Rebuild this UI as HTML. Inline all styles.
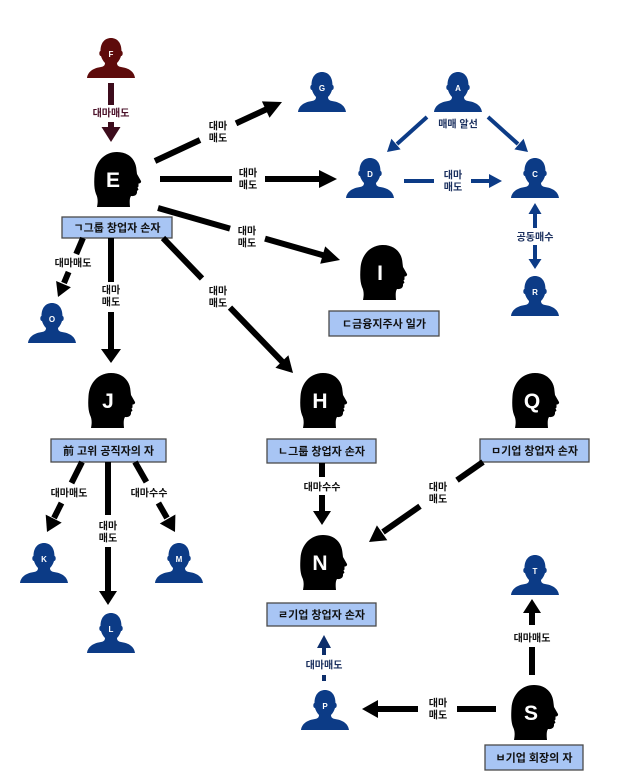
<!DOCTYPE html>
<html><head><meta charset="utf-8"><style>
html,body{margin:0;padding:0;background:#fff;}
svg{display:block;}
text{font-family:"Liberation Sans","Noto Sans CJK KR",sans-serif;}
.lb{font-size:10px;font-weight:bold;fill:#111;text-anchor:middle;}
.lbn{font-size:10px;font-weight:bold;fill:#1a2f5e;text-anchor:middle;}
.bx{fill:#a8c5f4;stroke:#4a4a4a;stroke-width:1.3;}
.bt{font-size:11px;font-weight:bold;fill:#111;text-anchor:middle;}
.sl{font-size:8px;font-weight:bold;fill:#fff;text-anchor:middle;}
.bl{font-family:"Liberation Sans",sans-serif;font-size:21px;font-weight:bold;fill:#fff;text-anchor:middle;}
.k{stroke:#000;stroke-width:6;fill:none;}
.b{stroke:#0c3b86;stroke-width:4;fill:none;}
</style></head><body>
<svg width="625" height="777" viewBox="0 0 625 777" xmlns="http://www.w3.org/2000/svg">
<defs>
<path id="pp" d="M0 40 C1 33,7 30,14 29 C17 28.5,18 27,18 25 C16 23,14.5 20,14 18 C12.5 18,12 16,12.5 14 C13 13,13.5 13,13.5 13 C13.5 4.5,18 0,24 0 C30 0,34.5 4.5,34.5 13 C34.5 13,35 13,35.5 14 C36 16,35.5 18,34 18 C33.5 20,32 23,30 25 C30 27,31 28.5,34 29 C41 30,47 33,48 40 Z"/>
<path id="hd" d="M3 55 C4 50,4 46,2 42 C0 37,0 30,0.5 23 C1.5 9,11 0,23 0 C35 0,42 8,42.5 18 L43 22 L47 29 C47.5 30.5,46 31.5,44.5 31.5 L44.5 34.5 L43.5 35.5 L44.5 37.5 L43 39 C43.5 42.5,41 44.5,37 44 C35.5 46,35.5 50,36 55 Z"/>
</defs>

<!-- small persons -->
<g transform="translate(87,38)"><use href="#pp" fill="#5e0b0b"/><text class="sl" x="24" y="19">F</text></g>
<g transform="translate(298,72)"><use href="#pp" fill="#0c3b86"/><text class="sl" x="24" y="19">G</text></g>
<g transform="translate(434,72)"><use href="#pp" fill="#0c3b86"/><text class="sl" x="24" y="19">A</text></g>
<g transform="translate(346,158)"><use href="#pp" fill="#0c3b86"/><text class="sl" x="24" y="19">D</text></g>
<g transform="translate(511,158)"><use href="#pp" fill="#0c3b86"/><text class="sl" x="24" y="19">C</text></g>
<g transform="translate(511,276)"><use href="#pp" fill="#0c3b86"/><text class="sl" x="24" y="19">R</text></g>
<g transform="translate(28,303)"><use href="#pp" fill="#0c3b86"/><text class="sl" x="24" y="19">O</text></g>
<g transform="translate(20,543)"><use href="#pp" fill="#0c3b86"/><text class="sl" x="24" y="19">K</text></g>
<g transform="translate(155,543)"><use href="#pp" fill="#0c3b86"/><text class="sl" x="24" y="19">M</text></g>
<g transform="translate(87,613)"><use href="#pp" fill="#0c3b86"/><text class="sl" x="24" y="19">L</text></g>
<g transform="translate(511,555)"><use href="#pp" fill="#0c3b86"/><text class="sl" x="24" y="19">T</text></g>
<g transform="translate(301,690)"><use href="#pp" fill="#0c3b86"/><text class="sl" x="24" y="19">P</text></g>

<!-- big heads -->
<g transform="translate(94,152)"><use href="#hd" fill="#000"/><text class="bl" x="19" y="35">E</text></g>
<g transform="translate(360,245)"><use href="#hd" fill="#000"/><text class="bl" x="20" y="35">I</text></g>
<g transform="translate(88,373)"><use href="#hd" fill="#000"/><text class="bl" x="20" y="35">J</text></g>
<g transform="translate(300,373)"><use href="#hd" fill="#000"/><text class="bl" x="20" y="35">H</text></g>
<g transform="translate(512,373)"><use href="#hd" fill="#000"/><text class="bl" x="20" y="35">Q</text></g>
<g transform="translate(300,535)"><use href="#hd" fill="#000"/><text class="bl" x="20" y="35">N</text></g>
<g transform="translate(511,685)"><use href="#hd" fill="#000"/><text class="bl" x="20" y="35">S</text></g>

<!-- boxes -->
<rect class="bx" x="62" y="217" width="110" height="21"/><text class="bt" x="117" y="231.5">ㄱ그룹 창업자 손자</text>
<rect class="bx" x="329" y="311" width="110" height="25"/><text class="bt" x="384" y="327.5">ㄷ금융지주사 일가</text>
<rect class="bx" x="51" y="439" width="115" height="23"/><text class="bt" x="108.5" y="454.5">前 고위 공직자의 자</text>
<rect class="bx" x="267" y="439" width="109" height="24"/><text class="bt" x="321.5" y="455">ㄴ그룹 창업자 손자</text>
<rect class="bx" x="480" y="439" width="109" height="23"/><text class="bt" x="534.5" y="454.5">ㅁ기업 창업자 손자</text>
<rect class="bx" x="267" y="603" width="109" height="23"/><text class="bt" x="321.5" y="618.5">ㄹ기업 창업자 손자</text>
<rect class="bx" x="485" y="745" width="98" height="25"/><text class="bt" x="534" y="761.5">ㅂ기업 회장의 자</text>

<!-- F -> E -->
<line x1="111" y1="83" x2="111" y2="105" stroke="#3d0c1c" stroke-width="6"/>
<line x1="111" y1="122" x2="111" y2="128" stroke="#3d0c1c" stroke-width="6"/>
<polygon points="101.5,127 120.5,127 111,142" fill="#3d0c1c"/>
<text class="lb" x="111" y="116.5" style="fill:#4a1028">대마매도</text>

<!-- E -> G -->
<line class="k" x1="155" y1="161" x2="200" y2="140"/>
<line class="k" x1="236" y1="123.4" x2="267" y2="109"/>
<polygon points="282,102 269.5,117.8 261.9,101.4" fill="#000"/>
<text class="lb" x="218" y="129.5">대마</text><text class="lb" x="218" y="141.5">매도</text>

<!-- E -> D -->
<line class="k" x1="160" y1="179" x2="232" y2="179"/>
<line class="k" x1="265" y1="179" x2="320" y2="179"/>
<polygon points="337,179 319,170 319,188" fill="#000"/>
<text class="lb" x="248" y="176.5">대마</text><text class="lb" x="248" y="188.5">매도</text>

<!-- E -> I -->
<line class="k" x1="158" y1="208" x2="230" y2="228.6"/>
<line class="k" x1="265" y1="238.6" x2="324" y2="255.5"/>
<polygon points="340,260 320.2,263.8 325.2,246.4" fill="#000"/>
<text class="lb" x="247" y="234.5">대마</text><text class="lb" x="247" y="246.5">매도</text>

<!-- A -> D, A -> C -->
<line class="b" x1="427" y1="117" x2="397" y2="144"/>
<polygon points="387,152 391.4,138.8 400.6,149.4" fill="#0c3b86"/>
<line class="b" x1="488" y1="117" x2="518" y2="144"/>
<polygon points="528,152 514.4,149.4 523.6,138.8" fill="#0c3b86"/>
<text class="lbn" x="458" y="127.5">매매 알선</text>

<!-- D -> C -->
<line class="b" x1="404" y1="181" x2="434" y2="181"/>
<line class="b" x1="471" y1="181" x2="491" y2="181"/>
<polygon points="502,181 489,174 489,188" fill="#0c3b86"/>
<text class="lbn" x="453" y="178.5">대마</text><text class="lbn" x="453" y="190.5">매도</text>

<!-- C <-> R -->
<polygon points="535,203 528.5,214 541.5,214" fill="#0c3b86"/>
<line class="b" x1="535" y1="213" x2="535" y2="228"/>
<text class="lbn" x="535" y="240.5">공동매수</text>
<line class="b" x1="535" y1="245" x2="535" y2="260"/>
<polygon points="535,269 528.5,259 541.5,259" fill="#0c3b86"/>

<!-- ㄱ -> O -->
<line class="k" x1="83" y1="238" x2="76.2" y2="254"/>
<line class="k" x1="68.6" y1="272" x2="64" y2="283"/>
<polygon points="58,297 56.1,281 70.9,287.2" fill="#000"/>
<text class="lb" x="73" y="266.5">대마매도</text>

<!-- ㄱ -> J -->
<line class="k" x1="111" y1="238" x2="111" y2="282"/>
<line class="k" x1="111" y1="312" x2="111" y2="350"/>
<polygon points="111,363 101,349 121,349" fill="#000"/>
<text class="lb" x="111" y="293.5">대마</text><text class="lb" x="111" y="305.5">매도</text>

<!-- ㄱ -> H -->
<line class="k" x1="163" y1="238" x2="202" y2="278.5"/>
<line class="k" x1="230" y1="307.6" x2="283" y2="362.5"/>
<polygon points="293,373 275.4,367.7 288.4,355.3" fill="#000"/>
<text class="lb" x="218" y="294.5">대마</text><text class="lb" x="218" y="306.5">매도</text>

<!-- J -> K -->
<line class="k" x1="82" y1="462" x2="71.5" y2="483"/>
<line class="k" x1="61.5" y1="503" x2="54" y2="518"/>
<polygon points="47,532 45.7,514.6 61.7,522.6" fill="#000"/>
<text class="lb" x="69" y="496.5">대마매도</text>

<!-- J -> L -->
<line class="k" x1="108" y1="462" x2="108" y2="515"/>
<line class="k" x1="108" y1="547" x2="108" y2="592"/>
<polygon points="108,605 99,591 117,591" fill="#000"/>
<text class="lb" x="108" y="529.5">대마</text><text class="lb" x="108" y="541.5">매도</text>

<!-- J -> M -->
<line class="k" x1="135" y1="462" x2="146.4" y2="482"/>
<line class="k" x1="158.4" y1="503" x2="167" y2="518"/>
<polygon points="175,532 159.8,523.5 175.4,514.5" fill="#000"/>
<text class="lb" x="149" y="496.5">대마수수</text>

<!-- H -> N -->
<line class="k" x1="322" y1="463" x2="322" y2="477"/>
<line class="k" x1="322" y1="495" x2="322" y2="512"/>
<polygon points="322,525 313,511 331,511" fill="#000"/>
<text class="lb" x="322" y="490.5">대마수수</text>

<!-- ㅁ -> N -->
<line class="k" x1="483" y1="462" x2="457" y2="480.2"/>
<line class="k" x1="420" y1="506.2" x2="383" y2="532"/>
<polygon points="369,542 376.9,525.4 387.3,540.2" fill="#000"/>
<text class="lb" x="438" y="490.5">대마</text><text class="lb" x="438" y="502.5">매도</text>

<!-- P -> ㄹ -->
<polygon points="324,635 317,648 331,648" fill="#0d2e6b"/>
<line x1="324" y1="647" x2="324" y2="655" stroke="#0d2e6b" stroke-width="4"/>
<text class="lbn" x="324" y="668.5">대마매도</text>
<line x1="324" y1="675" x2="324" y2="681" stroke="#0d2e6b" stroke-width="4"/>

<!-- S -> P -->
<polygon points="362,709 378,700 378,718" fill="#000"/>
<line class="k" x1="377" y1="709" x2="418" y2="709"/>
<line class="k" x1="457" y1="709" x2="496" y2="709"/>
<text class="lb" x="438" y="706.5">대마</text><text class="lb" x="438" y="718.5">매도</text>

<!-- S -> T -->
<polygon points="532,599 523,613 541,613" fill="#000"/>
<line class="k" x1="532" y1="612" x2="532" y2="625"/>
<text class="lb" x="532" y="641.5">대마매도</text>
<line class="k" x1="532" y1="647" x2="532" y2="675"/>
</svg>
</body></html>
